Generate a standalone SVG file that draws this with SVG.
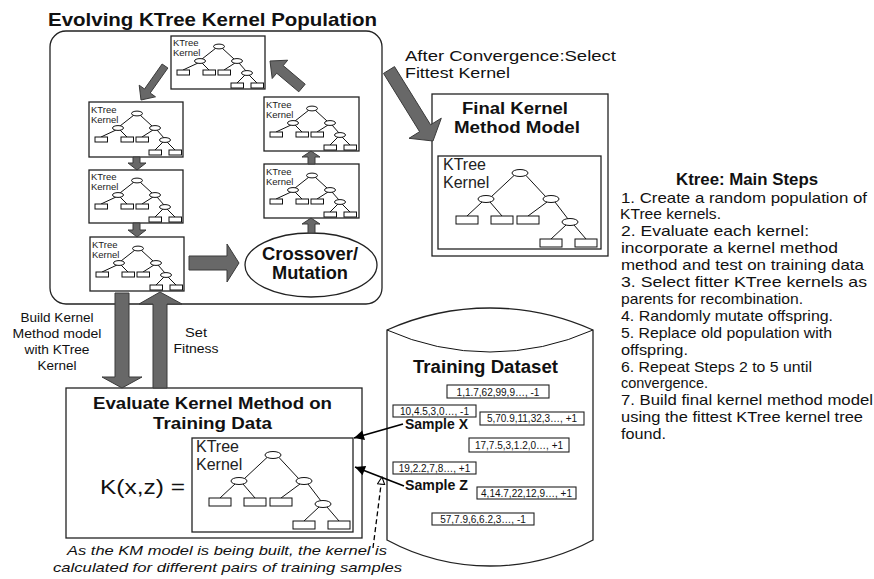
<svg xmlns="http://www.w3.org/2000/svg" xmlns:xlink="http://www.w3.org/1999/xlink" width="874" height="579" viewBox="0 0 874 579">
<style>
.t{font-family:"Liberation Sans",Arial,sans-serif;fill:#111}
.b{font-weight:bold}
.box{fill:#fff;stroke:#222;stroke-width:1.3}
.tl{stroke:#111;stroke-width:1;fill:none}
.tn{fill:#fff;stroke:#111;stroke-width:1}
.blk{fill:#686868;stroke:#3a3a3a;stroke-width:1}
.rec{fill:#fff;stroke:#222;stroke-width:1.1}
.rt{font-family:"Liberation Sans",Arial,sans-serif;font-size:10px;fill:#111;text-anchor:middle}
.kt{font-family:"Liberation Sans",Arial,sans-serif;font-size:9.5px;fill:#222}
.kl{font-family:"Liberation Sans",Arial,sans-serif;font-size:16px;fill:#222}
.st{font-family:"Liberation Sans",Arial,sans-serif;font-size:15px;fill:#111}
</style>
<defs>
<marker id="ah" viewBox="0 0 10 10" refX="10" refY="5" markerWidth="14" markerHeight="10" markerUnits="userSpaceOnUse" orient="auto"><path d="M0,0 L10,5 L0,10 z" fill="#000"/></marker>
<marker id="ahw" viewBox="0 0 10 10" refX="9" refY="5" markerWidth="9" markerHeight="9" markerUnits="userSpaceOnUse" orient="auto"><path d="M1,1 L9,5 L1,9 z" fill="#fff" stroke="#000" stroke-width="1.2"/></marker>
<g id="treeS">
<text x="2" y="10" class="kt">KTree</text>
<text x="2" y="20" class="kt">Kernel</text>
<path class="tl" d="M45,12 L31,23 M51,12 L63,23 M27,27 L12,34 M31,27 L38,34 M64,27 L53,34 M68,27 L75,35 M74,39 L66,47 M78,39 L86,47"/>
<ellipse class="tn" cx="48" cy="10.5" rx="5.5" ry="2.4"/>
<ellipse class="tn" cx="29" cy="25" rx="5.5" ry="2.4"/>
<ellipse class="tn" cx="66" cy="25" rx="5.5" ry="2.4"/>
<ellipse class="tn" cx="76" cy="37" rx="5.5" ry="2.4"/>
<rect class="tn" x="6" y="34" width="12.5" height="5"/>
<rect class="tn" x="32" y="34" width="12.5" height="5"/>
<rect class="tn" x="47" y="34" width="12.5" height="5"/>
<rect class="tn" x="60" y="47" width="12.5" height="5"/>
<rect class="tn" x="80" y="47" width="12.5" height="5"/>
</g>
<g id="treeL">
<text x="5" y="14" class="kl">KTree</text>
<text x="5" y="32" class="kl">Kernel</text>
<path class="tl" d="M76,19.5 L53,41 M88,19.5 L108,41 M44,46 L29,60 M52,46 L64,60 M109,46 L90,60 M117,46 L130,63 M128,69 L113,83 M136,69 L148,83"/>
<ellipse class="tn" cx="82" cy="17" rx="8" ry="3.5"/>
<ellipse class="tn" cx="48" cy="43" rx="8" ry="3.5"/>
<ellipse class="tn" cx="113" cy="43" rx="8" ry="3.5"/>
<ellipse class="tn" cx="132" cy="66" rx="8" ry="3.5"/>
<rect class="tn" x="18" y="60" width="22" height="8"/>
<rect class="tn" x="53" y="60" width="22" height="8"/>
<rect class="tn" x="79" y="60" width="22" height="8"/>
<rect class="tn" x="102" y="83" width="22" height="8"/>
<rect class="tn" x="137" y="83" width="22" height="8"/>
</g>
</defs>
<rect width="874" height="579" fill="#fff"/>

<g id="population">
<rect class="box" x="50" y="31" width="332" height="273" rx="16"/>
<text class="t b" x="48" y="26" font-size="18.5" textLength="329" lengthAdjust="spacingAndGlyphs">Evolving KTree Kernel Population</text>
</g>
<g id="kernel-top"><rect class="box" x="171" y="36" width="94" height="53"/><use xlink:href="#treeS" transform="translate(171,36)"/></g>
<g id="kernel-l1"><rect class="box" x="89" y="102" width="94" height="55"/><use xlink:href="#treeS" transform="translate(89,103)"/></g>
<g id="kernel-l2"><rect class="box" x="89" y="170" width="94" height="53"/><use xlink:href="#treeS" transform="translate(89,170)"/></g>
<g id="kernel-l3"><rect class="box" x="90" y="237" width="94" height="54"/><use xlink:href="#treeS" transform="translate(90,238)"/></g>
<g id="kernel-r1"><rect class="box" x="264" y="97" width="95" height="54"/><use xlink:href="#treeS" transform="translate(264,98)"/></g>
<g id="kernel-r2"><rect class="box" x="264" y="164" width="95" height="54"/><use xlink:href="#treeS" transform="translate(264,165)"/></g>
<g id="crossover">
<ellipse class="box" cx="311" cy="265" rx="66" ry="32"/>
<text class="t b" x="310" y="260" font-size="17.5" text-anchor="middle" textLength="96" lengthAdjust="spacingAndGlyphs">Crossover/</text>
<text class="t b" x="310" y="279" font-size="17.5" text-anchor="middle" textLength="76" lengthAdjust="spacingAndGlyphs">Mutation</text>
</g>

<g id="final-model">
<rect class="box" x="432" y="94" width="176" height="162"/>
<text class="t b" x="515" y="114" font-size="16" text-anchor="middle" textLength="106" lengthAdjust="spacingAndGlyphs">Final Kernel</text>
<text class="t b" x="517" y="133" font-size="16" text-anchor="middle" textLength="126" lengthAdjust="spacingAndGlyphs">Method Model</text>
<rect class="box" x="438" y="156" width="163" height="93"/>
<use xlink:href="#treeL" transform="translate(438,156)"/>
</g>

<g id="evaluate">
<rect class="box" x="66" y="388" width="296" height="150"/>
<text class="t b" x="93" y="409" font-size="16.5" textLength="239" lengthAdjust="spacingAndGlyphs">Evaluate Kernel Method on</text>
<text class="t b" x="153" y="429" font-size="16.5" textLength="119" lengthAdjust="spacingAndGlyphs">Training Data</text>
<text class="t" x="100" y="494" font-size="21" textLength="85" lengthAdjust="spacingAndGlyphs">K(x,z) =</text>
<rect class="box" x="192" y="438" width="161" height="94"/>
<use xlink:href="#treeL" transform="translate(191,438)"/>
</g>

<g id="dataset">
<path class="box" d="M387,330 L387,540 A217,217 0 0 0 593,540 L593,330 A252,252 0 0 0 387,330 Z"/>
<path class="tl" d="M387,330 A252,252 0 0 0 593,330" stroke="#222" stroke-width="1.3"/>
<text class="t b" x="485.5" y="373" font-size="18" text-anchor="middle" textLength="145" lengthAdjust="spacingAndGlyphs">Training Dataset</text>
<rect class="rec" x="447" y="385" width="102" height="13"/><text class="rt" x="498" y="395.5">1,1.7,62,99,9…, -1</text>
<rect class="rec" x="393" y="405" width="83" height="12"/><text class="rt" x="434.5" y="414.5">10,4.5,3,0…, -1</text>
<rect class="rec" x="480" y="412" width="104" height="13"/><text class="rt" x="532" y="422">5,70.9,11,32,3…, +1</text>
<rect class="rec" x="469" y="438" width="100" height="14"/><text class="rt" x="519" y="448.5">17,7.5,3,1.2,0…, +1</text>
<rect class="rec" x="393" y="462" width="83" height="12"/><text class="rt" x="434.5" y="471.5">19,2.2,7,8…, +1</text>
<rect class="rec" x="477" y="487" width="99" height="12"/><text class="rt" x="526.5" y="496.5">4,14.7,22,12,9…, +1</text>
<rect class="rec" x="432" y="513" width="102" height="12"/><text class="rt" x="483" y="522.5">57,7.9,6,6.2,3…, -1</text>
</g>

<g id="steps">
<text class="t b" x="676" y="185" font-size="16" textLength="142" lengthAdjust="spacingAndGlyphs">Ktree: Main Steps</text>
<text class="st" x="621" y="202.5" textLength="246" lengthAdjust="spacingAndGlyphs">1. Create a random population of</text>
<text class="st" x="620" y="219.4" textLength="101" lengthAdjust="spacingAndGlyphs">KTree kernels.</text>
<text class="st" x="621" y="236.3" textLength="188" lengthAdjust="spacingAndGlyphs">2. Evaluate each kernel:</text>
<text class="st" x="621" y="253.2" textLength="217" lengthAdjust="spacingAndGlyphs">incorporate a kernel method</text>
<text class="st" x="621" y="270.1" textLength="243" lengthAdjust="spacingAndGlyphs">method and test on training data</text>
<text class="st" x="621" y="287" textLength="246" lengthAdjust="spacingAndGlyphs">3. Select fitter KTree kernels as</text>
<text class="st" x="621" y="303.9" textLength="182" lengthAdjust="spacingAndGlyphs">parents for recombination.</text>
<text class="st" x="621" y="320.8" textLength="212" lengthAdjust="spacingAndGlyphs">4. Randomly mutate offspring.</text>
<text class="st" x="621" y="337.7" textLength="211" lengthAdjust="spacingAndGlyphs">5. Replace old population with</text>
<text class="st" x="621" y="354.6" textLength="67" lengthAdjust="spacingAndGlyphs">offspring.</text>
<text class="st" x="621" y="371.5" textLength="191" lengthAdjust="spacingAndGlyphs">6. Repeat Steps 2 to 5 until</text>
<text class="st" x="621" y="388.4" textLength="87" lengthAdjust="spacingAndGlyphs">convergence.</text>
<text class="st" x="621" y="405.3" textLength="252" lengthAdjust="spacingAndGlyphs">7. Build final kernel method model</text>
<text class="st" x="621" y="422.2" textLength="242" lengthAdjust="spacingAndGlyphs">using the fittest KTree kernel tree</text>
<text class="st" x="621" y="439.1" textLength="45" lengthAdjust="spacingAndGlyphs">found.</text>
</g>

<g id="connectors">
<polygon class="blk" points="162.1,64 144.5,89 139.2,85.2 141,100 155.5,96.8 150.2,93 167.9,68"/>
<polygon class="blk" points="305.2,84.2 283.2,65.6 287.7,60.2 270,61 272.2,78.5 276.7,73.2 298.8,91.8"/>
<polygon class="blk" points="133,157 140,157 140,163 146,163 137,170 128,163 133,163"/>
<polygon class="blk" points="133,223 140,223 140,230 146,230 137,237 128,230 133,230"/>
<polygon class="blk" points="189,256 227,256 227,244 239,263 227,282 227,270 189,270"/>
<polygon class="blk" points="308,233 315,233 315,224 320,224 311,218 302,224 308,224"/>
<polygon class="blk" points="308,164 315,164 315,157 320,157 311,151 302,157 308,157"/>
<polygon class="blk" points="383.5,73.4 419.6,131.7 409,138.3 433,141 441.3,118.2 430.6,124.8 394.5,66.6"/>
<polygon class="blk" points="115,293 129,293 129,377 142,377 122,388 102,377 115,377"/>
<polygon class="blk" points="153,388 167,388 167,304 182,304 160,292 139,304 153,304"/>
<line x1="403" y1="424" x2="354" y2="438" stroke="#000" stroke-width="1.6" marker-end="url(#ah)"/>
<line x1="404" y1="486" x2="355" y2="467" stroke="#000" stroke-width="1.6" marker-end="url(#ah)"/>
<line x1="373" y1="548" x2="382" y2="477" stroke="#000" stroke-width="1.3" stroke-dasharray="5,3" marker-end="url(#ahw)"/>
<text class="t" x="405" y="61" font-size="15" textLength="211" lengthAdjust="spacingAndGlyphs">After Convergence:Select</text>
<text class="t" x="405" y="78" font-size="15" textLength="105" lengthAdjust="spacingAndGlyphs">Fittest Kernel</text>
<text class="t" x="57" y="322" font-size="13" text-anchor="middle" textLength="73" lengthAdjust="spacingAndGlyphs">Build Kernel</text>
<text class="t" x="57" y="338" font-size="13" text-anchor="middle" textLength="89" lengthAdjust="spacingAndGlyphs">Method model</text>
<text class="t" x="57" y="354" font-size="13" text-anchor="middle" textLength="65" lengthAdjust="spacingAndGlyphs">with KTree</text>
<text class="t" x="57" y="370" font-size="13" text-anchor="middle" textLength="39" lengthAdjust="spacingAndGlyphs">Kernel</text>
<text class="t" x="196" y="337" font-size="13" text-anchor="middle" textLength="22" lengthAdjust="spacingAndGlyphs">Set</text>
<text class="t" x="196" y="353" font-size="13" text-anchor="middle" textLength="45" lengthAdjust="spacingAndGlyphs">Fitness</text>
<text class="t b" x="405" y="429" font-size="15" textLength="63" lengthAdjust="spacingAndGlyphs">Sample X</text>
<text class="t b" x="405" y="490" font-size="15" textLength="63" lengthAdjust="spacingAndGlyphs">Sample Z</text>
<text class="t" x="67" y="555" font-size="13" font-style="italic" textLength="320" lengthAdjust="spacingAndGlyphs">As the KM model is being built, the kernel is</text>
<text class="t" x="53" y="572" font-size="13" font-style="italic" textLength="349" lengthAdjust="spacingAndGlyphs">calculated for different pairs of training samples</text>
</g>
</svg>
